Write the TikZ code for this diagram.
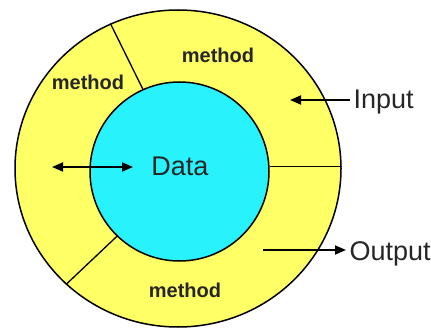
\documentclass[tikz,border=0pt]{standalone}
\usepackage{fontspec}
\setmainfont{Liberation Sans}
\usetikzlibrary{arrows.meta,shapes.geometric}
\definecolor{ringyellow}{RGB}{255,255,102}
\definecolor{datacyan}{RGB}{40,242,252}
\tikzset{
  ring/.style={ellipse,draw=black,line width=1.5pt,fill=ringyellow,inner sep=0pt,
    minimum width=326pt,minimum height=317pt},
  core/.style={circle,draw=black,line width=1.5pt,fill=datacyan,inner sep=0pt,minimum size=179pt},
  divider/.style={draw=black,line width=1.3pt},
  methodlbl/.style={font=\fontsize{20}{22}\selectfont\bfseries,text=black!85},
  biglbl/.style={font=\fontsize{27}{30}\selectfont,text=black!85},
  flow/.style={draw=black,line width=1.8pt,-{Triangle[length=11pt,width=9pt]}},
  bothflow/.style={draw=black,line width=1.8pt,{Triangle[length=11pt,width=9pt]}-{Triangle[length=11pt,width=9pt]}}
}
\begin{document}
\begin{tikzpicture}[x=1pt,y=-1pt]
\useasboundingbox (0,0) rectangle (431,331);
\node[ring] (outer) at (178,168.5) {};
\node[core] (inner) at (179.5,171.5) {};
\draw[divider] (inner.114) -- (outer.115.5);
\draw[divider] (inner.226) -- (outer.226);
\draw[divider] (inner.3.5) -- (inner.3.5 -| outer.east);
\node[methodlbl] (m1) at (218,55) {method};
\node[methodlbl] (m2) at (88,82) {method};
\node[methodlbl] (m3) at (185,290) {method};
\node[biglbl] (data) at (180,166) {Data};
\node[biglbl,anchor=west] (input) at (350,102) {Input};
\node[biglbl,anchor=west] (output) at (346,254) {Output};
\coordinate (intip) at (290,100);
\coordinate (outstart) at (263,250);
\coordinate (dl) at (52,167);
\coordinate (dr) at (133,167);
\draw[flow] (input.west |- intip) -- (intip);
\draw[flow] (outstart) -- (outstart -| output.west);
\draw[bothflow] (dl) -- (dr);
\end{tikzpicture}
\end{document}
